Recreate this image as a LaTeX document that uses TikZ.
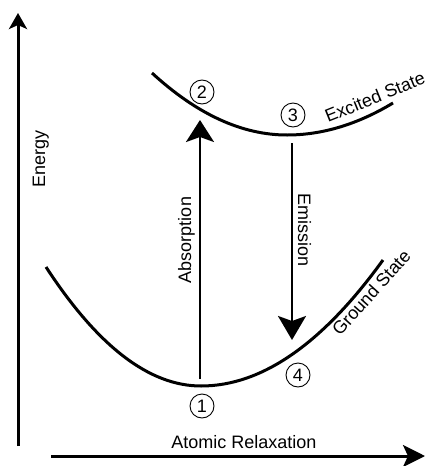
\documentclass[tikz,border=0pt]{standalone}
\usepackage{fontspec}
\setmainfont{Liberation Sans}
\usetikzlibrary{arrows.meta}
\begin{document}
\begin{tikzpicture}[x=1pt,y=-1pt,
  lbl/.style={font=\fontsize{18}{21}\selectfont, inner sep=0pt},
  numc/.style={circle, draw, line width=0.9pt, minimum size=24pt, inner sep=0pt, font=\fontsize{18}{21}\selectfont},
  curve/.style={line width=3pt},
  axis/.style={line width=3pt},
  trans/.style={line width=2.4pt}]
\useasboundingbox (0,0) rectangle (427,466);
% axes
\coordinate (ey0) at (18,446);
\coordinate (ey1) at (18,13);
\coordinate (ex0) at (51,456);
\coordinate (ex1) at (425,456);
\draw[axis, -{Stealth[length=16pt,width=18pt,inset=4pt]}] (ey0) -- (ey1);
\draw[axis, -{Stealth[length=22pt,width=22pt,inset=5pt]}] (ex0) -- (ex1);
\node[lbl, rotate=90, anchor=base] (energy) at (45,159) {Energy};
\node[lbl, anchor=base] (relax) at (244,448) {Atomic Relaxation};
% ground state curve
\draw[curve] (46,267) .. controls (97.7,346.3) and (149.3,386) .. (201,386)
  .. controls (261.7,386) and (322.3,344) .. (383,260);
% excited state curve
\draw[curve] (152,73) .. controls (197,114.3) and (242,135) .. (287,135)
  .. controls (322.3,135) and (357.7,124.3) .. (393,103);
\node[lbl, rotate=22, anchor=base west] (exc) at (328,123) {Excited State};
\node[lbl, rotate=48, anchor=base west] (gnd) at (340,337) {Ground State};
% transitions
\coordinate (a0) at (200,379);
\coordinate (a1) at (200,120);
\coordinate (m0) at (292,143);
\coordinate (m1) at (292,340);
\draw[trans, -{Stealth[length=22pt,width=28pt,inset=5pt]}] (a0) -- (a1);
\draw[trans, -{Stealth[length=24pt,width=28pt,inset=5pt]}] (m0) -- (m1);
\node[lbl, rotate=90, anchor=base] (abs) at (191,240) {Absorption};
\node[lbl, rotate=-90, anchor=base] (emi) at (298,230) {Emission};
% numbered states
\node[numc] (n1) at (202,406) {1};
\node[numc] (n2) at (202,92) {2};
\node[numc] (n3) at (293,115) {3};
\node[numc] (n4) at (298,375) {4};
\end{tikzpicture}
\end{document}
